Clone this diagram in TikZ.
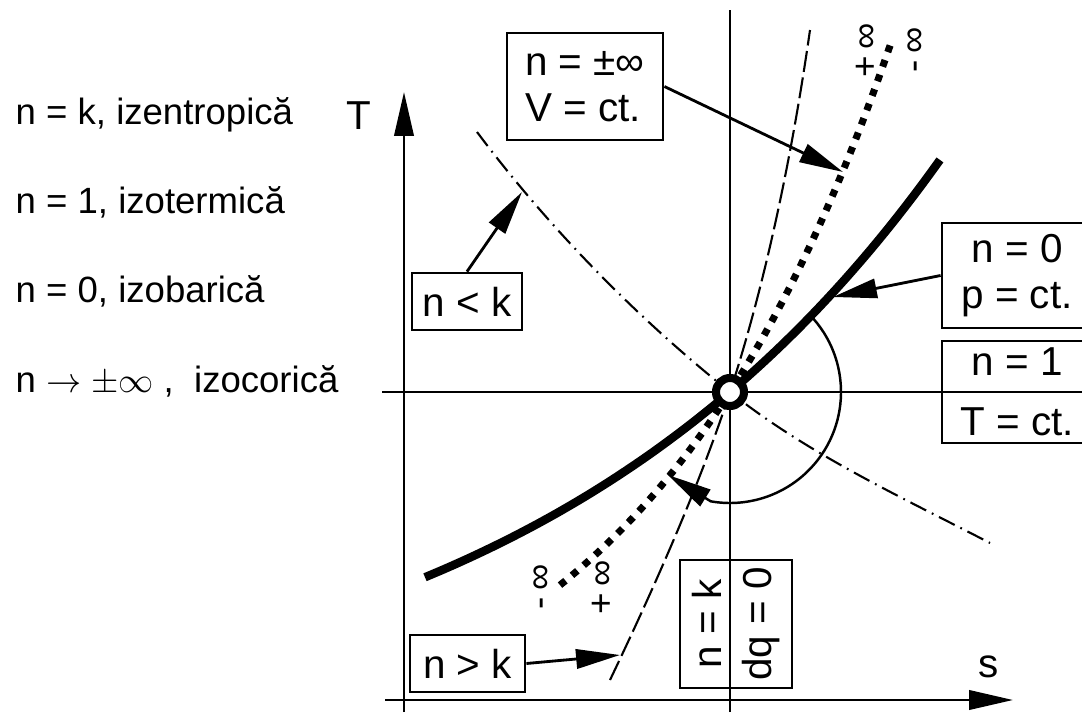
\documentclass[tikz,border=0pt]{standalone}
\usepackage{fontspec}
\setmainfont{Liberation Sans}
\usetikzlibrary{arrows.meta}

\begin{document}
\begin{tikzpicture}[>={Triangle[length=12.5pt,width=5.5pt]},
        every node/.style={font=\fontsize{11.5}{13}\selectfont},
        box/.style={draw, line width=0.8pt, inner sep=2pt},
        legend/.style={anchor=base west, inner sep=0pt, font=\fontsize{10.4}{12}\selectfont},
        inflabel/.style={rotate=90, inner sep=0pt, font=\fontsize{10.5}{10.5}\selectfont}]
    \useasboundingbox (0,0) rectangle (10.82,7.12);

    % legend on the left
    \node[legend] (lk) at (0.15,5.88) {n = k, izentropică};
    \node[legend] (l1) at (0.15,4.99) {n = 1, izotermică};
    \node[legend] (l0) at (0.15,4.10) {n = 0, izobarică};
    \node[legend] (linf) at (0.15,3.20) {n $\rightarrow \pm\infty$ ,\ \ izocorică};

    % boxes
    \node[box, minimum width=1.56cm, minimum height=1.07cm, align=left] (vinf) at (5.85,6.255) {n = ±∞\\V = ct.};
    \node[box, minimum width=1.10cm, minimum height=0.57cm] (nlk) at (4.67,4.105) {n < k};
    \node[box, minimum width=1.50cm, minimum height=1.05cm, align=center] (np) at (10.17,4.365) {n = 0\\p = ct.};
    \node[box, minimum width=1.50cm, minimum height=1.00cm, align=center] (nT) at (10.17,3.20) {n = 1\\[4pt]T = ct.};
    \node[box, minimum width=1.15cm, minimum height=0.57cm] (ngk) at (4.675,0.485) {n > k};
    \node[box, rotate=90, minimum width=1.28cm, minimum height=1.12cm, align=center] (nk) at (7.36,0.88) {n = k\\[1pt]dq = 0};

    % axes
    \draw[line width=0.8pt, ->] (4.04,0) -- (4.04,6.20);
    \draw[line width=0.8pt, ->] (3.85,0.12) -- (10.13,0.12);
    \node (T) at (3.59,5.96) {T};
    \node (s) at (9.89,0.45) {s};
    \draw[line width=0.8pt] (7.30,0) -- (7.30,7.02);
    \draw[line width=0.8pt] (3.82,3.20) -- (nT.east);

    % polytropic curves
    \draw[line width=0.6pt, dash pattern=on 5pt off 1.8pt on 0.5pt off 1.8pt]
        (4.77,5.80) .. controls (5.49,4.84) and (6.36,3.95) .. (7.30,3.20)
        .. controls (8.08,2.58) and (9.01,2.15) .. (9.90,1.69);
    \draw[line width=0.6pt, dash pattern=on 6pt off 1.6pt]
        (6.10,0.32) .. controls (6.53,1.22) and (6.99,2.25) .. (7.30,3.20)
        .. controls (7.67,4.34) and (7.93,5.63) .. (8.10,6.82);
    \draw[line width=2.4pt] plot[domain=4.25:9.40, samples=60] (\x, {3.6*exp(0.237*(\x-7.3))-0.40});
    \draw[line width=2pt, dash pattern=on 2pt off 2.4pt] plot[domain=5.60:8.92, samples=60] (\x, {3.97*exp(0.392*(\x-7.3))-0.77});

    \node[inflabel] (pinftop) at (8.67,6.62) {+\,∞};
    \node[inflabel] (minftop) at (9.17,6.62) {-\,∞};
    \node[inflabel] (minfbot) at (5.43,1.25) {-\,∞};
    \node[inflabel] (pinfbot) at (6.03,1.25) {+\,∞};

    % callouts
    \coordinate (tipV) at (8.43,5.40);
    \coordinate (tipL) at (5.22,5.20);
    \coordinate (tipP) at (8.33,4.15);
    \coordinate (tipG) at (6.20,0.57);
    \coordinate (tipA) at (6.68,2.37);
    \draw[line width=0.8pt, ->] (vinf.east) -- (tipV);
    \draw[line width=0.8pt, ->] (nlk.north) -- (tipL);
    \draw[line width=0.8pt, ->] (np.west) -- (tipP);
    \draw[line width=0.8pt, ->] (ngk.east) -- (tipG);

    % state point and angle sweep
    \node[circle, draw, line width=2.3pt, fill=white, minimum size=0.28cm, inner sep=0pt] (O) at (7.30,3.20) {};
    \draw[line width=0.7pt, ->] (O) ++(44:1.11) arc[start angle=44, end angle=-100, radius=1.11] -- (tipA);
\end{tikzpicture}
\end{document}
